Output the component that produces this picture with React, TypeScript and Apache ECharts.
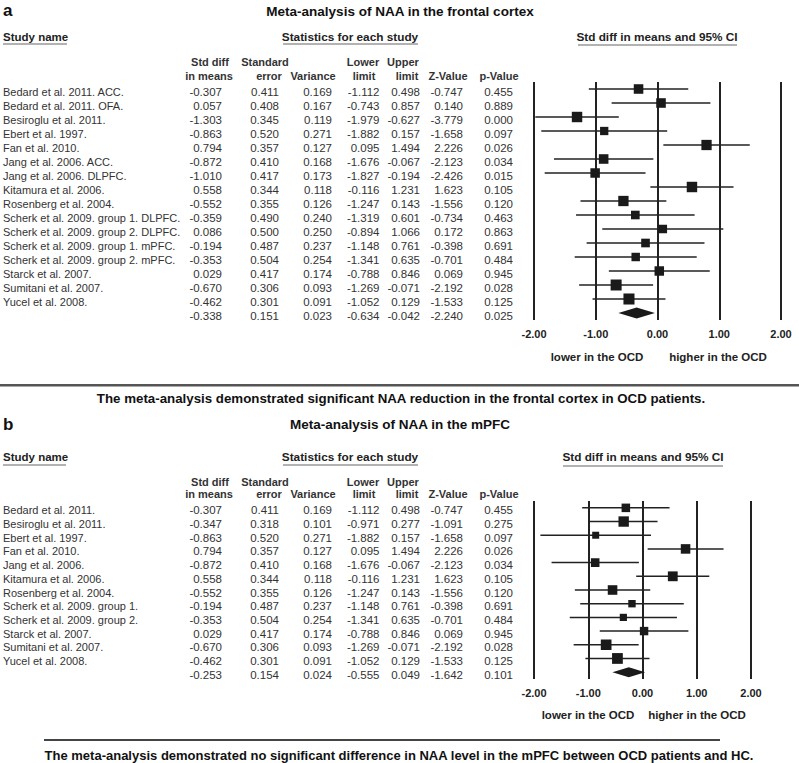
import React, { useEffect, useRef } from "react";
import * as echarts from "echarts";

const FONT = "'Liberation Sans', Arial, Helvetica, sans-serif";

// ---------- Panel a data ----------
const studiesA = [
  "Bedard et al. 2011. ACC.",
  "Bedard et al. 2011. OFA.",
  "Besiroglu et al. 2011.",
  "Ebert et al. 1997.",
  "Fan et al. 2010.",
  "Jang et al. 2006. ACC.",
  "Jang et al. 2006. DLPFC.",
  "Kitamura et al. 2006.",
  "Rosenberg et al. 2004.",
  "Scherk et al. 2009. group 1. DLPFC.",
  "Scherk et al. 2009. group 2. DLPFC.",
  "Scherk et al. 2009. group 1. mPFC.",
  "Scherk et al. 2009. group 2. mPFC.",
  "Starck et al. 2007.",
  "Sumitani et al. 2007.",
  "Yucel et al. 2008.",
  "",
];
const meanA = [-0.307, 0.057, -1.303, -0.863, 0.794, -0.872, -1.01, 0.558, -0.552, -0.359, 0.086, -0.194, -0.353, 0.029, -0.67, -0.462, -0.338];
const seA = [0.411, 0.408, 0.345, 0.52, 0.357, 0.41, 0.417, 0.344, 0.355, 0.49, 0.5, 0.487, 0.504, 0.417, 0.306, 0.301, 0.151];
const varA = [0.169, 0.167, 0.119, 0.271, 0.127, 0.168, 0.173, 0.118, 0.126, 0.24, 0.25, 0.237, 0.254, 0.174, 0.093, 0.091, 0.023];
const lowerA = [-1.112, -0.743, -1.979, -1.882, 0.095, -1.676, -1.827, -0.116, -1.247, -1.319, -0.894, -1.148, -1.341, -0.788, -1.269, -1.052, -0.634];
const upperA = [0.498, 0.857, -0.627, 0.157, 1.494, -0.067, -0.194, 1.231, 0.143, 0.601, 1.066, 0.761, 0.635, 0.846, -0.071, 0.129, -0.042];
const zA = [-0.747, 0.14, -3.779, -1.658, 2.226, -2.123, -2.426, 1.623, -1.556, -0.734, 0.172, -0.398, -0.701, 0.069, -2.192, -1.533, -2.24];
const pA = [0.455, 0.889, 0.0, 0.097, 0.026, 0.034, 0.015, 0.105, 0.12, 0.463, 0.863, 0.691, 0.484, 0.945, 0.028, 0.125, 0.025];

// ---------- Panel b data ----------
const studiesB = [
  "Bedard et al. 2011.",
  "Besiroglu et al. 2011.",
  "Ebert et al. 1997.",
  "Fan et al. 2010.",
  "Jang et al. 2006.",
  "Kitamura et al. 2006.",
  "Rosenberg et al. 2004.",
  "Scherk et al. 2009. group 1.",
  "Scherk et al. 2009. group 2.",
  "Starck et al. 2007.",
  "Sumitani et al. 2007.",
  "Yucel et al. 2008.",
  "",
];
const meanB = [-0.307, -0.347, -0.863, 0.794, -0.872, 0.558, -0.552, -0.194, -0.353, 0.029, -0.67, -0.462, -0.253];
const seB = [0.411, 0.318, 0.52, 0.357, 0.41, 0.344, 0.355, 0.487, 0.504, 0.417, 0.306, 0.301, 0.154];
const varB = [0.169, 0.101, 0.271, 0.127, 0.168, 0.118, 0.126, 0.237, 0.254, 0.174, 0.093, 0.091, 0.024];
const lowerB = [-1.112, -0.971, -1.882, 0.095, -1.676, -0.116, -1.247, -1.148, -1.341, -0.788, -1.269, -1.052, -0.555];
const upperB = [0.498, 0.277, 0.157, 1.494, -0.067, 1.231, 0.143, 0.761, 0.635, 0.846, -0.071, 0.129, 0.049];
const zB = [-0.747, -1.091, -1.658, 2.226, -2.123, 1.623, -1.556, -0.398, -0.701, 0.069, -2.192, -1.533, -1.642];
const pB = [0.455, 0.275, 0.097, 0.026, 0.034, 0.105, 0.12, 0.691, 0.484, 0.945, 0.028, 0.125, 0.101];

const axisTicks = [-2, -1, 0, 1, 2];

// column right edges for the statistics table
const COL_RIGHT = [222, 279, 332, 379.5, 420, 463, 513];

function T(text: string, x: number, y: number, o: any = {}) {
  return {
    type: "text",
    x,
    y,
    silent: true,
    style: {
      text,
      textAlign: o.align || "left",
      textVerticalAlign: "middle",
      fontSize: o.size || 11.5,
      fontWeight: o.bold ? "bold" : "normal",
      fontFamily: FONT,
      fill: o.color || "#333",
    },
  };
}
function L(x1: number, y1: number, x2: number, y2: number, stroke = "#999", lineWidth = 1.5) {
  return { type: "line", silent: true, shape: { x1, y1, x2, y2 }, style: { stroke, lineWidth } };
}

function tableSeries(gi: number, names: string[], cols: number[][]) {
  return {
    type: "custom",
    xAxisIndex: gi,
    yAxisIndex: gi,
    clip: false,
    silent: true,
    data: names.map((_, i) => [0, i]),
    encode: { x: 0, y: 1 },
    renderItem: (params: any, api: any) => {
      const i = params.dataIndex;
      const y = api.coord([0, i])[1] + 2.5;
      const children: any[] = [T(names[i], 3, y, { size: 11 })];
      cols.forEach((col, c) => {
        children.push(T(col[i].toFixed(3), COL_RIGHT[c], y, { align: "right", size: 11.5 }));
      });
      return { type: "group", children };
    },
  };
}

function forestSeries(gi: number, mean: number[], lower: number[], upper: number[], variance: number[], k: number, t: number, dh: number) {
  return {
    type: "custom",
    xAxisIndex: gi,
    yAxisIndex: gi,
    clip: false,
    silent: true,
    data: mean.map((m, i) => [m, i, lower[i], upper[i], variance[i]]),
    encode: { x: 0, y: 1 },
    renderItem: (params: any, api: any) => {
      const i = params.dataIndex;
      const c = api.coord([api.value(0), i]);
      const l = api.coord([api.value(2), i]);
      const u = api.coord([api.value(3), i]);
      if (i === mean.length - 1) {
        return {
          type: "polygon",
          shape: { points: [[l[0], c[1]], [c[0], c[1] - dh], [u[0], c[1]], [c[0], c[1] + dh]] },
          style: { fill: "#1a1a1a" },
        };
      }
      const s = k * Math.sqrt(1 / (api.value(4) + t));
      return {
        type: "group",
        children: [
          { type: "line", shape: { x1: l[0], y1: c[1], x2: u[0], y2: c[1] }, style: { stroke: "#222", lineWidth: 1.5 } },
          { type: "rect", shape: { x: c[0] - s / 2, y: c[1] - s / 2, width: s, height: s }, style: { fill: "#1a1a1a" } },
        ],
      };
    },
  };
}

function xAxisFor(gi: number) {
  return {
    gridIndex: gi,
    type: "value",
    min: axisTicks[0],
    max: axisTicks[axisTicks.length - 1],
    interval: 1,
    axisLine: { show: false },
    axisTick: { show: false },
    splitLine: { show: true, lineStyle: { color: "#222", width: 2 } },
    axisLabel: {
      formatter: (v: number) => v.toFixed(2),
      fontWeight: "bold",
      fontSize: 11,
      color: "#222",
      margin: 8,
      fontFamily: FONT,
    },
  };
}

function headerBlock(yTop: number, yBot: number) {
  return [
    T("Std diff", 210, yTop, { bold: true, align: "center", size: 11 }),
    T("in means", 209, yBot, { bold: true, align: "center", size: 11 }),
    T("Standard", 265, yTop, { bold: true, align: "center", size: 11 }),
    T("error", 269, yBot, { bold: true, align: "center", size: 11 }),
    T("Variance", 313, yBot, { bold: true, align: "center", size: 11 }),
    T("Lower", 363, yTop, { bold: true, align: "center", size: 11 }),
    T("limit", 364, yBot, { bold: true, align: "center", size: 11 }),
    T("Upper", 403, yTop, { bold: true, align: "center", size: 11 }),
    T("limit", 407, yBot, { bold: true, align: "center", size: 11 }),
    T("Z-Value", 448, yBot, { bold: true, align: "center", size: 11 }),
    T("p-Value", 499, yBot, { bold: true, align: "center", size: 11 }),
  ];
}

export default function App() {
  const ref = useRef<HTMLDivElement>(null);
  useEffect(() => {
    if (!ref.current) return;
    const chart = echarts.init(ref.current, undefined, { renderer: "svg" });
    const graphics: any[] = [
      // panel a
      T("a", 3, 10, { bold: true, size: 17, color: "#111" }),
      T("Meta-analysis of NAA in the frontal cortex", 400, 11, { bold: true, size: 13.5, align: "center", color: "#111" }),
      T("Study name", 3, 37, { bold: true, size: 11.5, color: "#222" }),
      L(3, 44, 67, 44),
      T("Statistics for each study", 350, 37, { bold: true, size: 11.8, align: "center", color: "#222" }),
      L(283, 44, 418, 44),
      T("Std diff in means and 95% CI", 657, 37, { bold: true, size: 11.8, align: "center", color: "#222" }),
      L(578, 45, 737, 45),
      ...headerBlock(62, 76),
      T("lower in the OCD", 597, 357, { bold: true, size: 11.5, align: "center", color: "#222" }),
      T("higher in the OCD", 718, 357, { bold: true, size: 11.5, align: "center", color: "#222" }),
      { type: "rect", silent: true, shape: { x: 0, y: 384, width: 799, height: 2.5 }, style: { fill: "#555" } },
      T("The meta-analysis demonstrated significant NAA reduction in the frontal cortex in OCD patients.", 401, 398, { bold: true, size: 13.3, align: "center", color: "#111" }),
      // panel b
      T("b", 3, 424, { bold: true, size: 17, color: "#111" }),
      T("Meta-analysis of NAA in the mPFC", 400, 424, { bold: true, size: 13.5, align: "center", color: "#111" }),
      T("Study name", 3, 457, { bold: true, size: 11.5, color: "#222" }),
      L(3, 465, 66, 465),
      T("Statistics for each study", 350, 457, { bold: true, size: 11.8, align: "center", color: "#222" }),
      L(283, 465, 418, 465),
      T("Std diff in means and 95% CI", 643, 457, { bold: true, size: 11.8, align: "center", color: "#222" }),
      L(563, 466, 723, 466),
      ...headerBlock(482, 494),
      T("lower in the OCD", 588, 715, { bold: true, size: 11.5, align: "center", color: "#222" }),
      T("higher in the OCD", 697, 715, { bold: true, size: 11.5, align: "center", color: "#222" }),
      L(44, 740, 720, 740, "#444", 2),
      T("The meta-analysis demonstrated no significant difference in NAA level in the mPFC between OCD patients and HC.", 399, 755, { bold: true, size: 13, align: "center", color: "#111" }),
    ];

    chart.setOption({
      animation: false,
      backgroundColor: "#fff",
      grid: [
        { left: 534, width: 247, top: 82, height: 238 },
        { left: 534, width: 217, top: 501, height: 178 },
      ],
      xAxis: [xAxisFor(0), xAxisFor(1)],
      yAxis: [
        { gridIndex: 0, type: "category", inverse: true, show: false, data: studiesA.map((_, i) => String(i)) },
        { gridIndex: 1, type: "category", inverse: true, show: false, data: studiesB.map((_, i) => String(i)) },
      ],
      series: [
        tableSeries(0, studiesA, [meanA, seA, varA, lowerA, upperA, zA, pA]),
        forestSeries(0, meanA, lowerA, upperA, varA, 5.33, 0.142, 5.5),
        tableSeries(1, studiesB, [meanB, seB, varB, lowerB, upperB, zB, pB]),
        forestSeries(1, meanB, lowerB, upperB, varB, 3.9, 0.04, 5),
      ],
      graphic: graphics,
    });
    return () => chart.dispose();
  }, []);
  return <div ref={ref} style={{ position: "absolute", left: 0, top: 0, width: 799, height: 763, background: "#fff" }} />;
}
